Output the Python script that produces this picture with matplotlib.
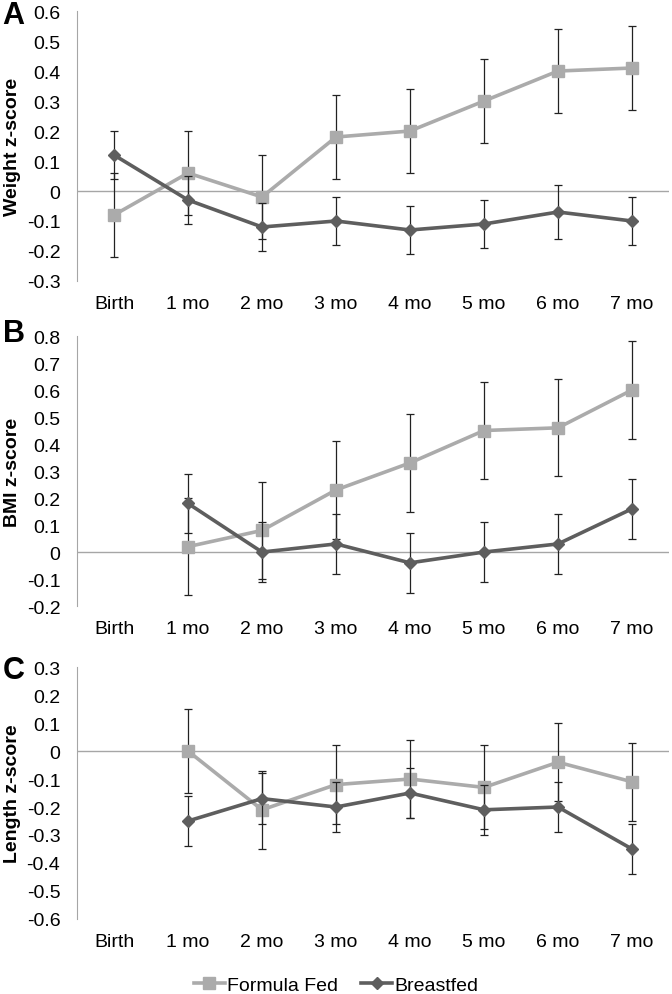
import matplotlib
matplotlib.use("Agg")
import matplotlib.pyplot as plt

plt.rcParams["font.family"] = ["Liberation Sans", "DejaVu Sans"]

##################################################################
# Data
##################################################################
months = ["Birth", "1 mo", "2 mo", "3 mo", "4 mo", "5 mo", "6 mo", "7 mo"]
nan = float("nan")

# A - weight
weight_formula = [-0.08, 0.06, -0.02, 0.18, 0.20, 0.30, 0.40, 0.41]
weight_formula_err = [0.14, 0.14, 0.14, 0.14, 0.14, 0.14, 0.14, 0.14]
weight_breast = [0.12, -0.03, -0.12, -0.10, -0.13, -0.11, -0.07, -0.10]
weight_breast_err = [0.08, 0.08, 0.08, 0.08, 0.08, 0.08, 0.09, 0.08]

# B - BMI
bmi_formula = [nan, 0.02, 0.08, 0.23, 0.33, 0.45, 0.46, 0.60]
bmi_formula_err = [nan, 0.18, 0.18, 0.18, 0.18, 0.18, 0.18, 0.18]
bmi_breast = [nan, 0.18, 0.00, 0.03, -0.04, 0.00, 0.03, 0.16]
bmi_breast_err = [nan, 0.11, 0.11, 0.11, 0.11, 0.11, 0.11, 0.11]

# C - length
length_formula = [nan, 0.00, -0.21, -0.12, -0.10, -0.13, -0.04, -0.11]
length_formula_err = [nan, 0.15, 0.14, 0.14, 0.14, 0.15, 0.14, 0.14]
length_breast = [nan, -0.25, -0.17, -0.20, -0.15, -0.21, -0.20, -0.35]
length_breast_err = [nan, 0.09, 0.09, 0.09, 0.09, 0.09, 0.09, 0.09]

panels = [
    ("A", "Weight z-score", weight_formula, weight_formula_err, weight_breast, weight_breast_err,
     [-0.3, -0.2, -0.1, 0, 0.1, 0.2, 0.3, 0.4, 0.5, 0.6]),
    ("B", "BMI z-score", bmi_formula, bmi_formula_err, bmi_breast, bmi_breast_err,
     [-0.2, -0.1, 0, 0.1, 0.2, 0.3, 0.4, 0.5, 0.6, 0.7, 0.8]),
    ("C", "Length z-score", length_formula, length_formula_err, length_breast, length_breast_err,
     [-0.6, -0.5, -0.4, -0.3, -0.2, -0.1, 0, 0.1, 0.2, 0.3]),
]

# axes boxes in figure fraction (left, bottom, width, height)
boxes = [
    (0.1146, 0.7166, 0.8809, 0.2713),
    (0.1146, 0.3899, 0.8809, 0.2714),
    (0.1146, 0.0754, 0.8809, 0.2532),
]
letter_y = [0.984, 0.664, 0.326]

formula_col = "#ABABAB"
breast_col = "#5E5E5E"
axis_col = "#A6A6A6"

fig = plt.figure(figsize=(6.72, 9.95), dpi=100)
x = list(range(len(months)))

for (letter, ylabel, f, ferr, b, berr, yticks), box, ly in zip(panels, boxes, letter_y):
    ax = fig.add_axes(box)
    ax.axhline(0, color=axis_col, lw=1.0, zorder=1)
    ax.errorbar(x, f, yerr=ferr, color=formula_col, lw=2.6, marker="s", ms=9,
                ecolor="#222222", elinewidth=0.9, capsize=3, capthick=0.9, zorder=3)
    ax.errorbar(x, b, yerr=berr, color=breast_col, lw=2.6, marker="D", ms=6.5,
                ecolor="#222222", elinewidth=0.9, capsize=3, capthick=0.9, zorder=4)
    ax.set_xlim(-0.5, 7.5)
    ax.set_ylim(yticks[0], yticks[-1])
    ax.set_yticks(yticks)
    ax.set_yticklabels(["0" if v == 0 else f"{v:.1f}" for v in yticks], fontsize=14)
    ax.set_xticks(x)
    ax.set_xticklabels(months, fontsize=14)
    for s in ["top", "right", "bottom"]:
        ax.spines[s].set_visible(False)
    ax.spines["left"].set_color(axis_col)
    ax.tick_params(axis="y", length=0, pad=12)
    ax.tick_params(axis="x", length=0, pad=10)
    ax.set_ylabel(ylabel, fontsize=14, fontweight="bold", labelpad=4)
    fig.text(0.004, ly, letter, fontsize=22, fontweight="bold", ha="left", va="center")

h_f = plt.Line2D([], [], color=formula_col, lw=2.6, marker="s", ms=8)
h_b = plt.Line2D([], [], color=breast_col, lw=2.6, marker="D", ms=6)
fig.legend([h_f, h_b], ["Formula Fed", "Breastfed"], loc="center", bbox_to_anchor=(0.5, 0.009),
           ncol=2, frameon=False, fontsize=14, handlelength=1.6, handletextpad=0.1, columnspacing=1.2,
           borderpad=0, borderaxespad=0)

fig.savefig("out.png", dpi=100)
